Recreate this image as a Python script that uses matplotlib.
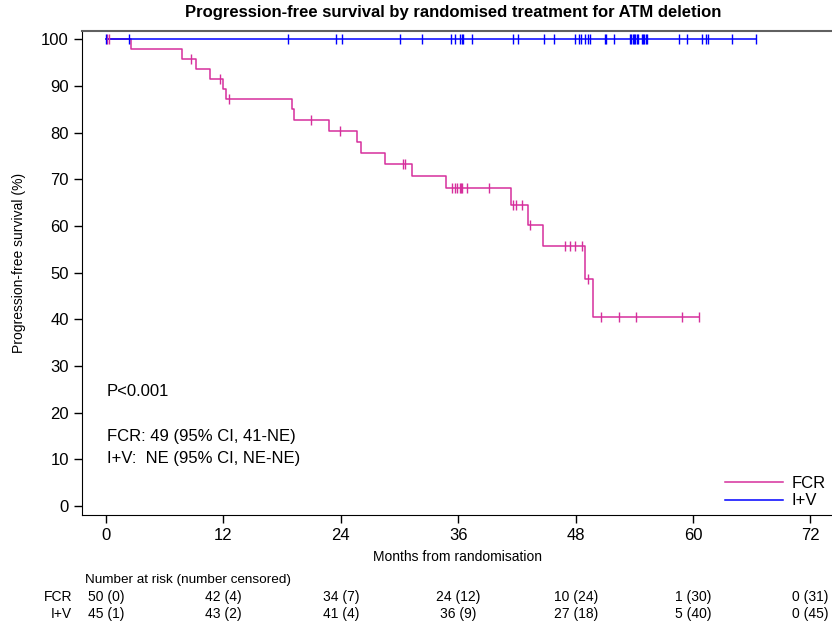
import matplotlib
matplotlib.use("Agg")
import matplotlib.pyplot as plt
import numpy as np

plt.rcParams['font.family'] = ['Liberation Sans', 'DejaVu Sans']

# FCR arm: step times (months) and survival level after each step (%)
fcr_times = [0, 2.6, 7.8, 9.2, 10.6, 12.0, 12.3, 19.0, 19.2, 22.8, 25.7, 26.1,
             28.5, 31.3, 34.7, 41.4, 43.1, 44.7, 49.0, 49.8, 60.6]
fcr_surv = [100, 97.9, 95.8, 93.7, 91.6, 89.4, 87.2, 85.0, 82.7, 80.4, 78.1, 75.7,
            73.3, 70.8, 68.2, 64.6, 60.3, 55.7, 48.7, 40.6, 40.6]
fcr_censored = [0.15, 0.3, 8.7, 11.7, 12.6, 21.0, 23.9, 30.4, 30.6, 35.4, 35.7,
                35.9, 36.2, 36.3, 36.4, 36.9, 39.1, 41.6, 41.9, 42.5, 43.3, 46.9,
                47.4, 47.95, 48.6, 49.25, 50.6, 52.4, 54.2, 58.9, 60.6]

# I+V arm: no events
iv_times = [0, 66.4]
iv_surv = [100, 100]
iv_censored = [0, 2.3, 18.6, 23.5, 24.1, 30.0, 32.3, 35.3, 35.7, 36.2, 36.35,
               36.5, 37.4, 41.6, 42.1, 44.8, 45.8, 47.9, 48.3, 48.5, 49.0, 49.3,
               49.5, 51.0, 51.1, 51.9, 53.6, 53.7, 53.85, 54.0, 54.1, 54.25, 54.4,
               54.8, 54.9, 55.0, 55.15, 55.3, 58.6, 59.4, 60.9, 61.3, 61.5, 64.0,
               66.4]

# number at risk (number censored)
risk_months = [0, 12, 24, 36, 48, 60, 72]
fcr_risk = ["50 (0)", "42 (4)", "34 (7)", "24 (12)", "10 (24)", "1 (30)", "0 (31)"]
iv_risk = ["45 (1)", "43 (2)", "41 (4)", "36 (9)", "27 (18)", "5 (40)", "0 (45)"]

fcr_col = "#d62f9c"
iv_col = "#0000ff"


def level_at(times, surv, t):
    idx = np.searchsorted(times, t, side="right") - 1
    return np.asarray(surv)[idx]


fig = plt.figure(figsize=(8.32, 6.25), dpi=100)
ax = fig.add_axes([0.0986, 0.176, 0.9014, 0.7744])

ax.step(fcr_times, fcr_surv, where="post", color=fcr_col, lw=1.1, label="FCR")
ax.step(iv_times, iv_surv, where="post", color=iv_col, lw=1.1, label="I+V")
ax.plot(fcr_censored, level_at(fcr_times, fcr_surv, fcr_censored), ls="none",
        marker="|", ms=7, mew=1.0, color=fcr_col)
ax.plot(iv_censored, level_at(iv_times, iv_surv, iv_censored), ls="none",
        marker="|", ms=7, mew=1.0, color=iv_col)

ax.set_xlim(-2.45, 74.2)
ax.set_ylim(-1.93, 101.8)
ax.set_xticks(risk_months)
ax.set_yticks(range(0, 101, 10))
ax.tick_params(labelsize=12, length=6, width=1)
ax.spines["right"].set_visible(False)
ax.spines["top"].set_color("#606060")
ax.spines["top"].set_linewidth(1.5)

ax.set_ylabel("Progression-free survival (%)", fontsize=10)
ax.yaxis.set_label_coords(-0.075, 0.52)
ax.set_xlabel("Months from randomisation", fontsize=10)
ax.xaxis.set_label_coords(0.5, -0.072)

ax.text(0.1, 24.6, "P<0.001", fontsize=12, va="center")
ax.text(0.1, 14.8, "FCR: 49 (95% CI, 41-NE)", fontsize=12, va="center")
ax.text(0.1, 10.1, "I+V:  NE (95% CI, NE-NE)", fontsize=12, va="center")

ax.legend(loc="lower right", bbox_to_anchor=(1.0, 0.0), frameon=False,
          fontsize=12, handlelength=3.5, handletextpad=0.5, labelspacing=0.15,
          borderaxespad=0.0)

fig.text(453 / 832, 1 - 12 / 625,
         "Progression-free survival by randomised treatment for ATM deletion",
         fontsize=12, fontweight="bold", ha="center", va="center")

# risk table under the x axis
fig.text(85 / 832, 1 - 580 / 625, "Number at risk (number censored)",
         fontsize=9.7, ha="left", va="center")
for label, row, ypix in [("FCR", fcr_risk, 597), ("I+V", iv_risk, 614)]:
    y = 1 - ypix / 625
    fig.text(72 / 832, y, label, fontsize=10, ha="right", va="center")
    for m, s in zip(risk_months, row):
        xfig = fig.transFigure.inverted().transform(
            ax.transData.transform((m, 0)))[0]
        fig.text(xfig, y, s, fontsize=10, ha="center", va="center")

fig.savefig("out.png", dpi=100)
